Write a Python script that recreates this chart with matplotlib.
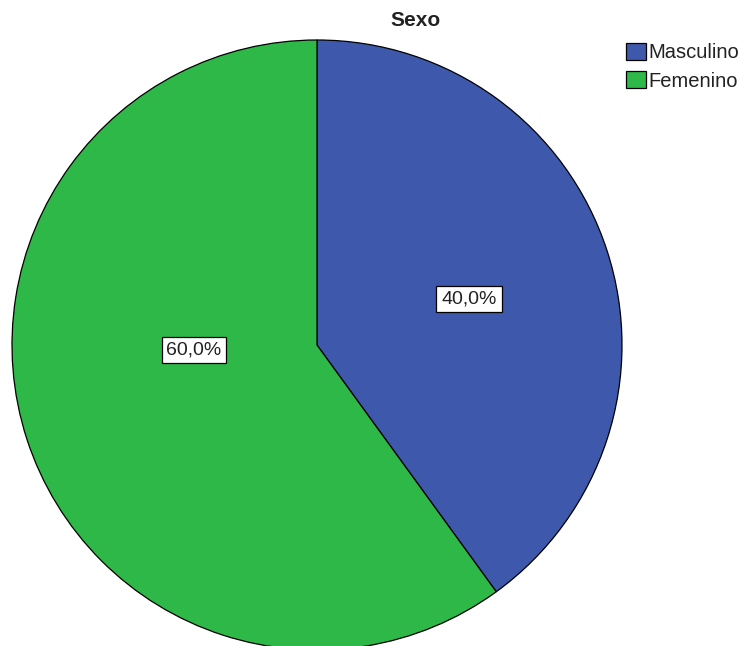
import matplotlib
matplotlib.use("Agg")
import matplotlib.pyplot as plt

title = "Sexo"
categories = ["Masculino", "Femenino"]
values = [40.0, 60.0]
colors = ["#3E58AC", "#2EB848"]
label_pos = [(469, 299), (194, 350)]  # pixel positions of percentage labels

FONT = "Liberation Sans"

W, H = 747, 646
fig = plt.figure(figsize=(W / 100, H / 100), dpi=100)
ax = fig.add_axes([0, 0, 1, 1])

cx, cy, r = 317, H - 345, 305
wedges, texts, autotexts = ax.pie(
    values, colors=colors, startangle=90, counterclock=False,
    center=(cx, cy), radius=r, frame=True,
    wedgeprops=dict(edgecolor="black", linewidth=0.9),
    autopct=lambda p: f"{p:.1f}%".replace(".", ","),
    textprops=dict(fontsize=14, family=FONT, color="#222222"),
)
ax.set_xlim(0, W)
ax.set_ylim(0, H)
ax.set_aspect("equal")
ax.axis("off")
for t, (px, py) in zip(autotexts, label_pos):
    t.set_position((px, H - py))
    t.set_ha("center")
    t.set_va("center")
    t.set_bbox(dict(boxstyle="square,pad=0.25", facecolor="white", edgecolor="black", linewidth=0.9))

fig.text(416 / W, 1 - 21 / H, title, ha="center", va="center",
         fontsize=15, fontweight="bold", family=FONT, color="#222222")

leg = ax.legend(wedges, categories, loc="upper left", bbox_to_anchor=(626 / W, 1 - 43 / H),
                bbox_transform=fig.transFigure, frameon=False,
                prop=dict(family=FONT, size=14.5),
                handlelength=1.0, handleheight=0.9, handletextpad=0.1,
                labelspacing=0.45, borderpad=0, borderaxespad=0)
for t in leg.get_texts():
    t.set_color("#222222")

fig.savefig("out.png", dpi=100)
